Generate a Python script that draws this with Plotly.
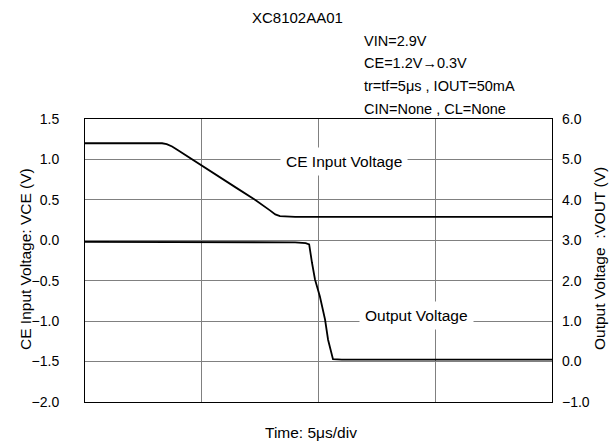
import plotly.graph_objects as go

# CE input voltage waveform (left axis), time in microseconds
ce_time = [0.0, 1.0, 2.0, 3.0, 3.3, 3.5, 3.73, 4.0, 4.58, 5.5, 6.5, 7.28, 7.6, 7.92, 8.15, 8.35, 9.0, 12.0, 15.0, 18.0, 20.0]
ce_volt = [1.20, 1.20, 1.20, 1.20, 1.20, 1.19, 1.16, 1.11, 1.00, 0.83, 0.645, 0.50, 0.44, 0.37, 0.32, 0.30, 0.29, 0.29, 0.29, 0.29, 0.29]

# Output voltage waveform (right axis)
out_time = [0.0, 2.0, 4.0, 6.0, 8.0, 9.0, 9.45, 9.6, 9.72, 9.85, 10.06, 10.28, 10.41, 10.62, 11.0, 13.0, 15.0, 17.0, 20.0]
out_volt = [2.96, 2.96, 2.96, 2.96, 2.96, 2.95, 2.93, 2.90, 2.45, 2.03, 1.61, 1.04, 0.54, 0.06, 0.05, 0.05, 0.05, 0.05, 0.05]

left_ticks = [-2.0, -1.5, -1.0, -0.5, 0.0, 0.5, 1.0, 1.5]
right_ticks = [-1.0, 0.0, 1.0, 2.0, 3.0, 4.0, 5.0, 6.0]
time_ticks = [0, 5, 10, 15, 20]

title = "XC8102AA01"
conditions = ["VIN=2.9V", "CE=1.2V→0.3V", "tr=tf=5μs , IOUT=50mA", "CIN=None , CL=None"]

FONT = "Arial, Liberation Sans, sans-serif"
fig = go.Figure()

fig.add_trace(go.Scatter(x=ce_time, y=ce_volt, mode="lines",
                         line=dict(color="black", width=1.8), yaxis="y", showlegend=False))
fig.add_trace(go.Scatter(x=out_time, y=out_volt, mode="lines",
                         line=dict(color="black", width=1.8), yaxis="y2", showlegend=False))

L, R, T, B = 85, 552, 119, 402
W, H = 613, 443

def px(xp):
    return (xp - L) / (R - L)

def py(yp):
    return (B - yp) / (B - T)

label_font = dict(family=FONT, size=15.5, color="black")

annotations = [
    dict(text=title, x=px(297), y=py(17), xref="paper", yref="paper",
         showarrow=False, xanchor="center", yanchor="middle", font=dict(size=15)),
    dict(text="CE Input Voltage: VCE (V)", x=px(25), y=py(259), xref="paper", yref="paper",
         showarrow=False, textangle=-90, xanchor="center", yanchor="middle", font=label_font),
    dict(text="Output Voltage  :VOUT (V)", x=px(599), y=py(259), xref="paper", yref="paper",
         showarrow=False, textangle=-90, xanchor="center", yanchor="middle", font=label_font),
    dict(text="Time: 5μs/div", x=px(311), y=py(432), xref="paper", yref="paper",
         showarrow=False, xanchor="center", yanchor="middle", font=label_font),
    dict(text="CE Input Voltage", x=11.09, y=0.97, xref="x", yref="y",
         showarrow=False, bgcolor="white", borderpad=5, xanchor="center", yanchor="middle",
         font=label_font),
    dict(text="Output Voltage", x=14.2, y=-0.93, xref="x", yref="y",
         showarrow=False, bgcolor="white", borderpad=5, xanchor="center", yanchor="middle",
         font=label_font),
]
for line, ypos in zip(conditions, [41, 63, 86, 109]):
    annotations.append(dict(text=line, x=px(362), y=py(ypos), xref="paper", yref="paper",
                            showarrow=False, xanchor="left", yanchor="middle",
                            font=dict(size=14.5)))

fig.update_layout(
    width=W, height=H,
    margin=dict(l=L, r=W - R, t=T, b=H - B, pad=0),
    paper_bgcolor="white", plot_bgcolor="white",
    font=dict(family=FONT, size=14, color="black"),
    xaxis=dict(range=[0, 20], tickvals=time_ticks, showticklabels=False,
               showgrid=True, gridcolor="#808080", gridwidth=1,
               showline=True, linecolor="black", linewidth=1, mirror=True,
               zeroline=False, ticks=""),
    yaxis=dict(range=[-2.0, 1.5], tickvals=left_ticks, tickformat=".1f",
               showgrid=True, gridcolor="#808080", gridwidth=1,
               showline=True, linecolor="black", linewidth=1, mirror=True,
               zeroline=False, ticks="", ticklabelstandoff=22),
    yaxis2=dict(range=[-1.0, 6.0], tickvals=right_ticks, tickformat=".1f",
                overlaying="y", side="right", showgrid=False, zeroline=False,
                showline=False, ticks="", ticklabelstandoff=9),
    annotations=annotations,
    showlegend=False,
)

fig.write_html("out.html")
